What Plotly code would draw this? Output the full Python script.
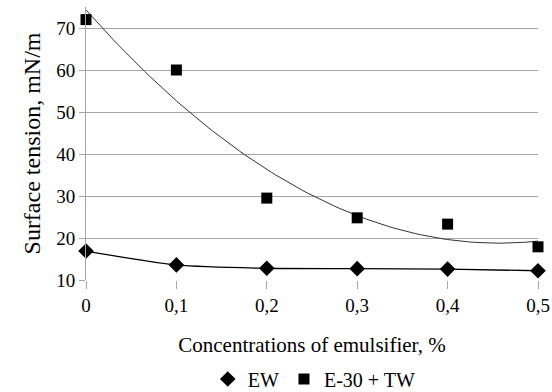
import numpy as np
import plotly.graph_objects as go

concentrations = [0, 0.1, 0.2, 0.3, 0.4, 0.5]
tick_labels = ["0", "0,1", "0,2", "0,3", "0,4", "0,5"]
ew_values = [16.9, 13.6, 12.8, 12.7, 12.6, 12.2]
e30_tw_values = [72.0, 60.0, 29.5, 24.8, 23.3, 17.9]

# second-order polynomial trendline of E-30 + TW (as in the original chart)
coef = np.polyfit(concentrations, e30_tw_values, 2)
xs = np.linspace(0, 0.5, 101)
ys = np.polyval(coef, xs)

FF = "Liberation Serif"

fig = go.Figure()
fig.add_trace(go.Scatter(x=xs, y=ys, mode="lines", line=dict(color="#333333", width=1),
                         showlegend=False, hoverinfo="skip"))
fig.add_trace(go.Scatter(x=concentrations, y=ew_values, mode="lines",
                         line=dict(color="black", width=1.3, shape="spline", smoothing=0.8),
                         showlegend=False))
fig.add_trace(go.Scatter(x=concentrations, y=ew_values, mode="markers", name="EW",
                         marker=dict(symbol="diamond", size=12, color="black"), cliponaxis=False))
fig.add_trace(go.Scatter(x=concentrations, y=e30_tw_values, mode="markers", name="E-30 + TW",
                         marker=dict(symbol="square", size=11, color="black"), cliponaxis=False))

fig.update_layout(
    width=552, height=392,
    margin=dict(l=86, r=14, t=7, b=112, autoexpand=False),
    paper_bgcolor="white", plot_bgcolor="white",
    font=dict(family=FF, color="black", size=19),
    showlegend=True,
    legend=dict(orientation="h", x=0.505, xanchor="center",
                yref="container", y=0.033, yanchor="middle",
                font=dict(family=FF, size=20, color="black"), itemwidth=30, tracegroupgap=0,
                bgcolor="rgba(0,0,0,0)"),
    xaxis=dict(
        range=[0, 0.5], tickvals=concentrations, ticktext=tick_labels,
        showgrid=False, zeroline=False, showline=False,
        ticks="outside", ticklen=8, tickcolor="#A6A6A6", tickwidth=1,
        tickfont=dict(family=FF, size=19, color="black"),
        title=dict(text="Concentrations of emulsifier, %", font=dict(family=FF, size=21, color="black"), standoff=22),
        automargin=False,
    ),
    yaxis=dict(
        range=[10, 75], tickvals=[10, 20, 30, 40, 50, 60, 70],
        showgrid=True, gridcolor="#A6A6A6", gridwidth=1,
        zeroline=False, showline=True, linecolor="#A6A6A6", linewidth=1,
        ticks="outside", ticklen=6, tickcolor="#A6A6A6",
        tickfont=dict(family=FF, size=19, color="black"),
        title=dict(text="Surface tension, mN/m", font=dict(family=FF, size=24, color="black"), standoff=8),
        automargin=False,
    ),
)

fig.write_html("out.html", config={"displayModeBar": False},
               post_script="document.body.style.margin='0';")
